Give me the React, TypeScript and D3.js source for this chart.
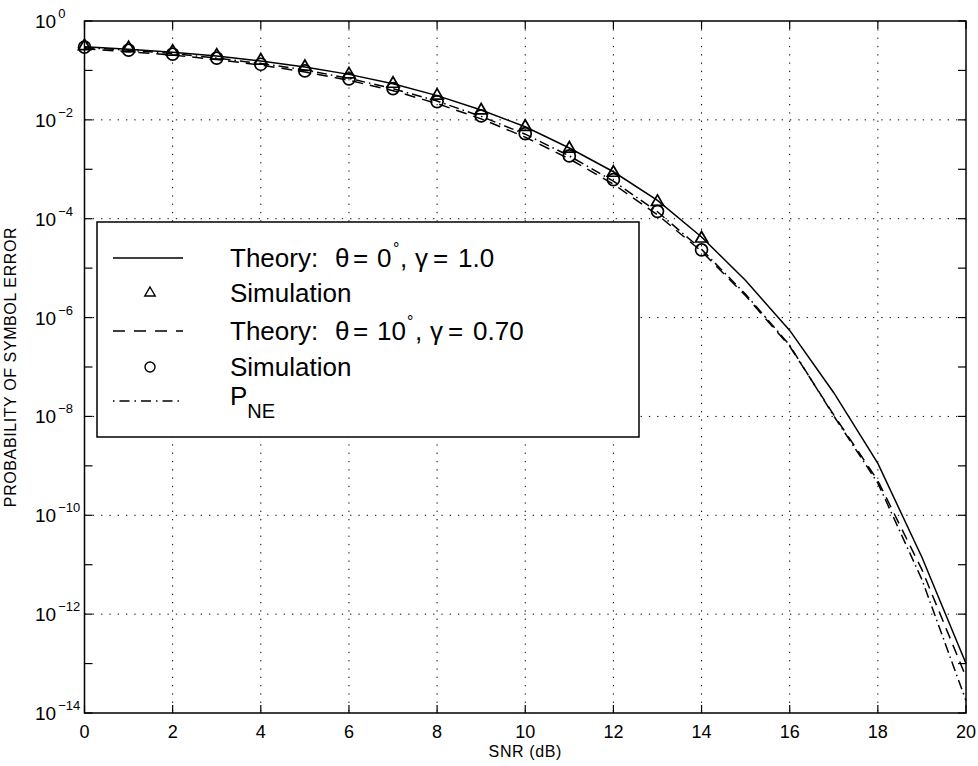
import React from "react";
import * as d3 from "d3";

const snr = d3.range(0, 21);
const simSnr = d3.range(0, 15);
// log10 of probability
const theory0Log = [-0.52, -0.57, -0.63, -0.71, -0.81, -0.93, -1.08, -1.27, -1.51, -1.80, -2.14, -2.57, -3.05, -3.63, -4.37, -5.25, -6.26, -7.52, -8.95, -10.85, -13.0];
const theory10Log = [-0.56, -0.62, -0.69, -0.78, -0.89, -1.03, -1.20, -1.41, -1.67, -1.98, -2.35, -2.79, -3.30, -3.92, -4.66, -5.56, -6.58, -7.97, -9.30, -11.1, -13.27];
const pneLog = [-0.54, -0.59, -0.66, -0.75, -0.86, -0.99, -1.16, -1.37, -1.62, -1.93, -2.29, -2.73, -3.24, -3.86, -4.62, -5.53, -6.56, -7.99, -9.35, -11.3, -13.75];
const sim0Log = [-0.51, -0.55, -0.62, -0.70, -0.80, -0.93, -1.08, -1.27, -1.51, -1.81, -2.14, -2.58, -3.07, -3.66, -4.40];
const sim10Log = [-0.53, -0.59, -0.67, -0.75, -0.875, -1.01, -1.17, -1.37, -1.63, -1.92, -2.28, -2.73, -3.21, -3.85, -4.63];
const xTicks = [0, 2, 4, 6, 8, 10, 12, 14, 16, 18, 20];
const yExpTicks = d3.range(0, -15, -1);
const yLabelExps = [0, -2, -4, -6, -8, -10, -12, -14];

const W = 978, H = 766;
const L = 84.5, R = 966, T = 21, B = 713;
const font = "'Liberation Sans', Arial, Helvetica, sans-serif";

export default function App() {
  const x = d3.scaleLinear().domain([0, 20]).range([L, R]);
  const y = d3.scaleLog().domain([1e-14, 1]).range([B, T]);
  const yv = (e: number) => y(Math.pow(10, e));
  const line = (arr: number[]) =>
    d3.line<number>().x((_, i) => x(snr[i])).y((d) => yv(d))(arr) || "";

  const tri = (cx: number, cy: number, s = 7) =>
    `M${cx},${cy - s} L${cx + s * 0.87},${cy + s * 0.5} L${cx - s * 0.87},${cy + s * 0.5} Z`;

  const legX = 97, legY = 222, legW = 542, legH = 215;
  const rowY = [258, 293, 331, 367, 401];
  const sx1 = 113, sx2 = 183, tx = 230;
  const fs = 26;

  return (
    <svg width={W} height={H} style={{ position: "absolute", left: 0, top: 0, background: "#fff" }} fontFamily={font}>
      <rect x={0} y={0} width={W} height={H} fill="#fff" />
      {/* grid */}
      {xTicks.filter((t) => t > 0 && t < 20).map((t) => (
        <line key={"gx" + t} x1={x(t)} x2={x(t)} y1={T} y2={B} stroke="#000" strokeWidth={1} strokeDasharray="1.3,7" />
      ))}
      {yLabelExps.filter((e) => e < 0 && e > -14).map((e) => (
        <line key={"gy" + e} x1={L} x2={R} y1={yv(e)} y2={yv(e)} stroke="#000" strokeWidth={1} strokeDasharray="1.3,7" />
      ))}
      {/* ticks */}
      {xTicks.map((t) => (
        <g key={"tx" + t}>
          <line x1={x(t)} x2={x(t)} y1={B} y2={B - 8} stroke="#000" strokeWidth={1.2} />
          <line x1={x(t)} x2={x(t)} y1={T} y2={T + 8} stroke="#000" strokeWidth={1.2} />
          <text x={x(t)} y={B + 25} fontSize={18} textAnchor="middle">{t}</text>
        </g>
      ))}
      {yExpTicks.map((e) => (
        <g key={"ty" + e}>
          <line x1={L} x2={L + 8} y1={yv(e)} y2={yv(e)} stroke="#000" strokeWidth={1.2} />
          <line x1={R} x2={R - 8} y1={yv(e)} y2={yv(e)} stroke="#000" strokeWidth={1.2} />
        </g>
      ))}
      {yLabelExps.map((e) => (
        <text key={"yl" + e} x={35} y={yv(e) + 7} fontSize={19}>
          10
          <tspan dx={2} dy={-10} fontSize={13}>{e === 0 ? "0" : "\u2212" + (-e)}</tspan>
        </text>
      ))}
      {/* curves */}
      <path d={line(theory0Log)} fill="none" stroke="#000" strokeWidth={1.5} />
      <path d={line(theory10Log)} fill="none" stroke="#000" strokeWidth={1.5} strokeDasharray="11,7" />
      <path d={line(pneLog)} fill="none" stroke="#000" strokeWidth={1.5} strokeDasharray="10,4,1.5,4" />
      {sim0Log.map((v, i) => (
        <path key={"st" + i} d={tri(x(simSnr[i]), yv(v))} fill="none" stroke="#000" strokeWidth={1.7} />
      ))}
      {sim10Log.map((v, i) => (
        <circle key={"sc" + i} cx={x(simSnr[i])} cy={yv(v)} r={6} fill="none" stroke="#000" strokeWidth={1.7} />
      ))}
      {/* axes box */}
      <rect x={L} y={T} width={R - L} height={B - T} fill="none" stroke="#000" strokeWidth={1.5} />
      {/* legend */}
      <rect x={legX} y={legY} width={legW} height={legH} fill="#fff" stroke="#000" strokeWidth={1.5} />
      <line x1={sx1} x2={sx2} y1={rowY[0]} y2={rowY[0]} stroke="#000" strokeWidth={1.5} />
      <path d={tri(150, rowY[1], 6)} fill="none" stroke="#000" strokeWidth={1.4} />
      <line x1={sx1} x2={sx2} y1={rowY[2]} y2={rowY[2]} stroke="#000" strokeWidth={1.5} strokeDasharray="12,9" />
      <circle cx={150} cy={rowY[3]} r={5} fill="none" stroke="#000" strokeWidth={1.4} />
      <line x1={sx1} x2={sx2} y1={rowY[4]} y2={rowY[4]} stroke="#000" strokeWidth={1.5} strokeDasharray="1.5,5,10,5" />
      <g fontSize={fs}>
        <text y={rowY[0] + 9}>
          <tspan x={tx}>Theory:</tspan>
          <tspan x={335}>θ</tspan>
          <tspan x={353}>=</tspan>
          <tspan x={377}>0</tspan>
          <tspan x={393} dy={-13} fontSize={16}>°</tspan>
          <tspan x={400} dy={13}>,</tspan>
          <tspan x={415}>γ</tspan>
          <tspan x={433}>=</tspan>
          <tspan x={458}>1.0</tspan>
        </text>
        <text x={tx} y={rowY[1] + 9}>Simulation</text>
        <text y={rowY[2] + 9}>
          <tspan x={tx}>Theory:</tspan>
          <tspan x={335}>θ</tspan>
          <tspan x={353}>=</tspan>
          <tspan x={377}>10</tspan>
          <tspan x={407} dy={-13} fontSize={16}>°</tspan>
          <tspan x={415} dy={13}>,</tspan>
          <tspan x={430}>γ</tspan>
          <tspan x={448}>=</tspan>
          <tspan x={473}>0.70</tspan>
        </text>
        <text x={tx} y={rowY[3] + 9}>Simulation</text>
        <text x={tx} y={rowY[4] + 4}>
          P<tspan dy={13} fontSize={20}>NE</tspan>
        </text>
      </g>
      {/* axis labels */}
      <text x={(L + R) / 2} y={757} fontSize={16} textAnchor="middle" letterSpacing={0.6}>SNR (dB)</text>
      <text transform={`translate(16,${(T + B) / 2}) rotate(-90)`} fontSize={16} textAnchor="middle" letterSpacing={0.6}>
        PROBABILITY OF SYMBOL ERROR
      </text>
    </svg>
  );
}
